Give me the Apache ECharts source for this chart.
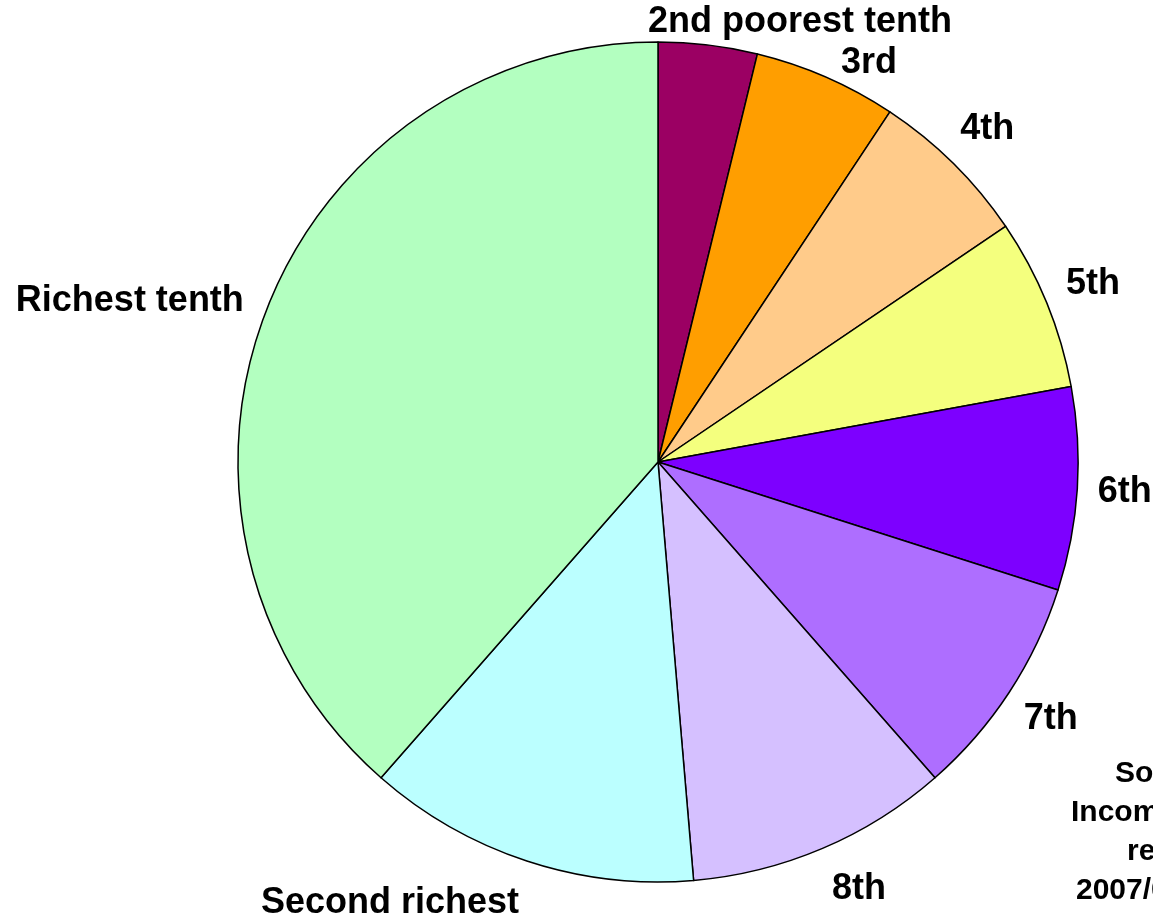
<!DOCTYPE html>
<html>
<head>
<meta charset="utf-8">
<script src="https://cdn.jsdelivr.net/npm/echarts@6/dist/echarts.min.js"></script>
<style>html,body{margin:0;padding:0;background:#fff;}#chart{width:1153px;height:923px;}</style>
</head>
<body>
<div id="chart"></div>
<script>
// ---- data ----
var categories = ['2nd poorest tenth', '3rd', '4th', '5th', '6th', '7th', '8th', 'Second richest', 'Richest tenth'];
var shares = [3.8, 5.5, 6.2, 6.6, 7.8, 8.6, 10.1, 12.8, 38.5];
var sliceColors = ['#9B0063', '#FF9E00', '#FFCB8A', '#F4FF7E', '#7D00FF', '#AE6EFF', '#D5C0FF', '#BBFFFF', '#B3FFC0'];
var sourceLines = ['Source:', 'Income data', 'report', '2007/08'];

// ---- layout ----
var CX = 658, CY = 462, R = 420, GAP = 20;
var FONT = '"Liberation Sans", Arial, sans-serif';
// labels that were moved away from their slice's mid-angle in the original: [angle clockwise from top, distance]
var labelOverrides = { 0: [17.9, 462], 1: [27.9, 451], 6: [154.8, 472], 7: [211.3, 516], 8: [286.9, 552] };

var total = shares.reduce(function (a, b) { return a + b; }, 0);
var midAngles = [];
var acc = 0;
shares.forEach(function (v) {
  midAngles.push((acc + v / 2) / total * 360);
  acc += v;
});

var chart = echarts.init(document.getElementById('chart'), null, { renderer: 'canvas' });
chart.setOption({
  backgroundColor: '#ffffff',
  animation: false,
  series: [{
    type: 'pie',
    center: [CX, CY],
    radius: [0, R],
    startAngle: 90,
    clockwise: true,
    avoidLabelOverlap: false,
    data: categories.map(function (c, i) {
      return { name: c, value: shares[i], itemStyle: { color: sliceColors[i] } };
    }),
    itemStyle: { borderColor: '#000000', borderWidth: 1.5 },
    emphasis: { disabled: true },
    label: {
      show: true,
      position: 'outside',
      formatter: '{b}',
      color: '#000000',
      fontFamily: FONT,
      fontWeight: 'bold',
      fontSize: 36
    },
    labelLine: { show: false },
    labelLayout: function (p) {
      var i = p.dataIndex;
      var ang, dist;
      if (labelOverrides[i]) {
        ang = labelOverrides[i][0];
        dist = labelOverrides[i][1];
      } else {
        ang = midAngles[i];
        var t = ang * Math.PI / 180;
        var w = p.labelRect.width, h = 26;
        var ext = w / 2 * Math.abs(Math.sin(t)) + h / 2 * Math.abs(Math.cos(t));
        dist = R + GAP + ext;
      }
      var a = ang * Math.PI / 180;
      return {
        x: CX + dist * Math.sin(a),
        y: CY - dist * Math.cos(a),
        align: 'center',
        verticalAlign: 'middle'
      };
    }
  }],
  graphic: sourceLines.map(function (txt, i) {
    var xs = [1115, 1071, 1127, 1076];
    return {
      type: 'text',
      x: xs[i],
      y: 774 + i * 39,
      style: {
        text: txt,
        font: 'bold 30px ' + FONT,
        fill: '#000000',
        textAlign: 'left',
        textVerticalAlign: 'middle'
      }
    };
  })
});
</script>
</body>
</html>
